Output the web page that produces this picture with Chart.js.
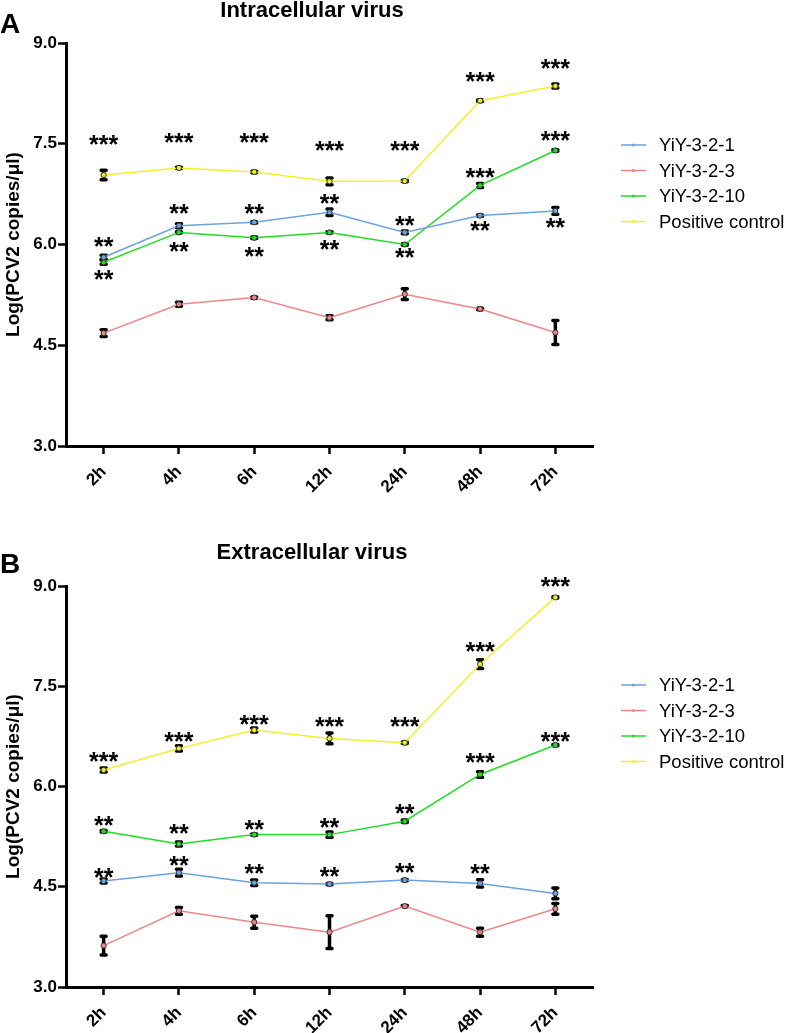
<!DOCTYPE html>
<html>
<head>
<meta charset="utf-8">
<script src="https://cdn.jsdelivr.net/npm/chart.js@4.4.1/dist/chart.umd.min.js"></script>
<style>
  html, body { margin: 0; padding: 0; background: #fff; }
  .panel { position: absolute; left: 0; width: 786px; }
  #panelA { top: 0; height: 505px; }
  #panelB { top: 505px; height: 528px; }
</style>
</head>
<body>
<div class="panel" id="panelA"><canvas id="chartA"></canvas></div>
<div class="panel" id="panelB"><canvas id="chartB"></canvas></div>
<script>
// ---- data ----
const timePoints = ['2h', '4h', '6h', '12h', '24h', '48h', '72h'];
const seriesNames = ['YiY-3-2-1', 'YiY-3-2-3', 'YiY-3-2-10', 'Positive control'];
const seriesColors = ['#6aa3e0', '#f08585', '#22dc22', '#f5ef2a'];
const yMin = 3.0;
const yMax = 9.0;
const yStep = 1.5;

// A - intracellular virus (mean, error)
const intraYiY1 = [5.81, 6.28, 6.33, 6.48, 6.18, 6.43, 6.50];
const intraYiY1Err = [0.03, 0.03, 0.01, 0.05, 0.02, 0.01, 0.05];
const intraYiY3 = [4.68, 5.11, 5.21, 4.91, 5.26, 5.04, 4.69];
const intraYiY3Err = [0.05, 0.03, 0.01, 0.03, 0.08, 0.01, 0.18];
const intraYiY10 = [5.735, 6.18, 6.10, 6.18, 6.00, 6.88, 7.40];
const intraYiY10Err = [0.03, 0.01, 0.01, 0.01, 0.01, 0.03, 0.01];
const intraPos = [7.035, 7.14, 7.08, 6.94, 6.945, 8.14, 8.36];
const intraPosErr = [0.07, 0.01, 0.01, 0.05, 0.01, 0.01, 0.03];

// significance marks and where they sit (value units)
const intraYiY1Stars = ['**', '**', '**', '**', '**', '**', '**'];
const intraYiY1StarY = [6.04, 6.53, 6.53, 6.68, 6.35, 6.28, 6.32];
const intraYiY10Stars = ['**', '**', '**', '**', '**', '***', '***'];
const intraYiY10StarY = [5.55, 5.96, 5.89, 5.99, 5.87, 7.06, 7.62];
const intraPosStars = ['***', '***', '***', '***', '***', '***', '***'];
const intraPosStarY = [7.56, 7.59, 7.59, 7.47, 7.47, 8.49, 8.69];

// B - extracellular virus
const extraYiY1 = [4.585, 4.71, 4.56, 4.54, 4.60, 4.55, 4.40];
const extraYiY1Err = [0.03, 0.05, 0.04, 0.01, 0.01, 0.055, 0.08];
const extraYiY3 = [3.62, 4.14, 3.97, 3.82, 4.21, 3.82, 4.17];
const extraYiY3Err = [0.14, 0.05, 0.09, 0.245, 0.01, 0.06, 0.08];
const extraYiY10 = [5.33, 5.14, 5.28, 5.28, 5.48, 6.18, 6.62];
const extraYiY10Err = [0.01, 0.03, 0.01, 0.04, 0.02, 0.04, 0.01];
const extraPos = [6.247, 6.57, 6.845, 6.72, 6.655, 7.83, 8.83];
const extraPosErr = [0.03, 0.04, 0.03, 0.08, 0.01, 0.065, 0.01];

const extraYiY1Stars = ['**', '**', '**', '**', '**', '**', null];
const extraYiY1StarY = [4.71, 4.89, 4.76, 4.72, 4.78, 4.76, null];
const extraYiY10Stars = ['**', '**', '**', '**', '**', '***', '***'];
const extraYiY10StarY = [5.48, 5.36, 5.42, 5.46, 5.67, 6.42, 6.745];
const extraPosStars = ['***', '***', '***', '***', '***', '***', '***'];
const extraPosStarY = [6.44, 6.745, 6.995, 6.96, 6.96, 8.09, 9.06];

// ---- helpers ----
Chart.defaults.font.family = '"Liberation Sans", Arial, sans-serif';
Chart.defaults.color = '#000';

function makeDataset(i, values, errors, stars, starY) {
    return {
        label: seriesNames[i],
        data: values,
        errors: errors,
        stars: stars,
        starY: starY,
        borderColor: seriesColors[i],
        backgroundColor: seriesColors[i],
        borderWidth: 1.5,
        pointRadius: 2.6,
        pointHoverRadius: 2.6,
        pointBorderWidth: 1,
        pointBorderColor: '#333',
        pointBackgroundColor: seriesColors[i],
        tension: 0,
        clip: false
    };
}

// black error bars, under the lines and points
const errorBarPlugin = {
    id: 'errorBars',
    beforeDatasetsDraw(chart) {
        const ctx = chart.ctx;
        const x = chart.scales.x;
        const y = chart.scales.y;
        ctx.save();
        ctx.strokeStyle = '#000';
        ctx.lineWidth = 3.5;
        ctx.lineCap = 'round';
        chart.data.datasets.forEach(ds => {
            ds.data.forEach((v, i) => {
                const e = ds.errors[i];
                if (!e) return;
                const px = x.getPixelForValue(i);
                const top = y.getPixelForValue(v + e);
                const bot = y.getPixelForValue(v - e);
                ctx.beginPath();
                ctx.moveTo(px, top);
                ctx.lineTo(px, bot);
                ctx.moveTo(px - 2.5, top);
                ctx.lineTo(px + 2.5, top);
                ctx.moveTo(px - 2.5, bot);
                ctx.lineTo(px + 2.5, bot);
                ctx.stroke();
            });
        });
        ctx.restore();
    }
};

// asterisks, legend, title and panel letter
const decorPlugin = {
    id: 'decor',
    afterDraw(chart, args, opts) {
        const ctx = chart.ctx;
        const x = chart.scales.x;
        const y = chart.scales.y;
        const area = chart.chartArea;
        ctx.save();

        // stars
        ctx.fillStyle = '#000';
        ctx.font = 'bold 25px "Liberation Sans", Arial, sans-serif';
        ctx.textAlign = 'center';
        ctx.textBaseline = 'alphabetic';
        const m = ctx.measureText('*');
        const shift = (m.actualBoundingBoxAscent - m.actualBoundingBoxDescent) / 2;
        chart.data.datasets.forEach(ds => {
            if (!ds.stars) return;
            ds.stars.forEach((s, i) => {
                if (!s) return;
                ctx.fillText(s, x.getPixelForValue(i), y.getPixelForValue(ds.starY[i]) + shift);
            });
        });

        // legend
        ctx.textAlign = 'left';
        ctx.textBaseline = 'middle';
        ctx.font = '18.5px "Liberation Sans", Arial, sans-serif';
        chart.data.datasets.forEach((ds, i) => {
            const ly = area.top + opts.legendTop + i * 25.5;
            ctx.strokeStyle = ds.borderColor;
            ctx.lineWidth = 1.5;
            ctx.beginPath();
            ctx.moveTo(621, ly);
            ctx.lineTo(646, ly);
            ctx.stroke();
            ctx.fillStyle = ds.borderColor;
            ctx.beginPath();
            ctx.arc(633.5, ly, 1.6, 0, Math.PI * 2);
            ctx.fill();
            ctx.fillStyle = '#000';
            ctx.fillText(ds.label, 659, ly + 1);
        });

        // title and letter
        ctx.textBaseline = 'alphabetic';
        ctx.textAlign = 'center';
        ctx.font = 'bold 22px "Liberation Sans", Arial, sans-serif';
        ctx.fillText(opts.title, 312, opts.titleBase);
        ctx.textAlign = 'left';
        ctx.font = 'bold 28px "Liberation Sans", Arial, sans-serif';
        ctx.fillText(opts.letter, 0, opts.letterBase);
        ctx.restore();
    }
};

function buildChart(canvasId, datasets, padTop, xHeight, decor) {
    return new Chart(document.getElementById(canvasId), {
        type: 'line',
        data: { labels: timePoints, datasets: datasets },
        options: {
            responsive: true,
            maintainAspectRatio: false,
            animation: false,
            layout: { padding: { top: padTop, right: 193, bottom: 0, left: 0 } },
            plugins: {
                legend: { display: false },
                tooltip: { enabled: false },
                decor: decor
            },
            scales: {
                x: {
                    type: 'category',
                    offset: true,
                    afterFit: s => { s.height = xHeight; },
                    grid: {
                        display: true,
                        drawOnChartArea: false,
                        drawTicks: true,
                        offset: false,
                        tickLength: 8,
                        tickWidth: 2.5,
                        tickColor: '#000'
                    },
                    border: { display: true, width: 3, color: '#000' },
                    ticks: {
                        color: '#000',
                        font: { size: 17, weight: 'bold' },
                        minRotation: 45,
                        maxRotation: 45,
                        padding: 8
                    }
                },
                y: {
                    min: yMin,
                    max: yMax,
                    afterFit: s => { s.width = 66; },
                    grid: {
                        display: true,
                        drawOnChartArea: false,
                        drawTicks: true,
                        tickLength: 8,
                        tickWidth: 2.5,
                        tickColor: '#000'
                    },
                    border: { display: true, width: 3, color: '#000' },
                    ticks: {
                        stepSize: yStep,
                        color: '#000',
                        padding: 1,
                        font: { size: 17, weight: 'bold' },
                        callback: v => v.toFixed(1)
                    },
                    title: {
                        display: true,
                        text: 'Log(PCV2 copies/μl)',
                        color: '#000',
                        font: { size: 19, weight: 'bold' },
                        padding: { top: 2, bottom: 0 }
                    }
                }
            }
        },
        plugins: [errorBarPlugin, decorPlugin]
    });
}

buildChart('chartA', [
    makeDataset(0, intraYiY1, intraYiY1Err, intraYiY1Stars, intraYiY1StarY),
    makeDataset(1, intraYiY3, intraYiY3Err, null, null),
    makeDataset(2, intraYiY10, intraYiY10Err, intraYiY10Stars, intraYiY10StarY),
    makeDataset(3, intraPos, intraPosErr, intraPosStars, intraPosStarY)
], 43, 59, { title: 'Intracellular virus', letter: 'A', titleBase: 17, letterBase: 33, legendTop: 102 });

buildChart('chartB', [
    makeDataset(0, extraYiY1, extraYiY1Err, extraYiY1Stars, extraYiY1StarY),
    makeDataset(1, extraYiY3, extraYiY3Err, null, null),
    makeDataset(2, extraYiY10, extraYiY10Err, extraYiY10Stars, extraYiY10StarY),
    makeDataset(3, extraPos, extraPosErr, extraPosStars, extraPosStarY)
], 81, 46, { title: 'Extracellular virus', letter: 'B', titleBase: 54, letterBase: 68, legendTop: 99 });
</script>
</body>
</html>
